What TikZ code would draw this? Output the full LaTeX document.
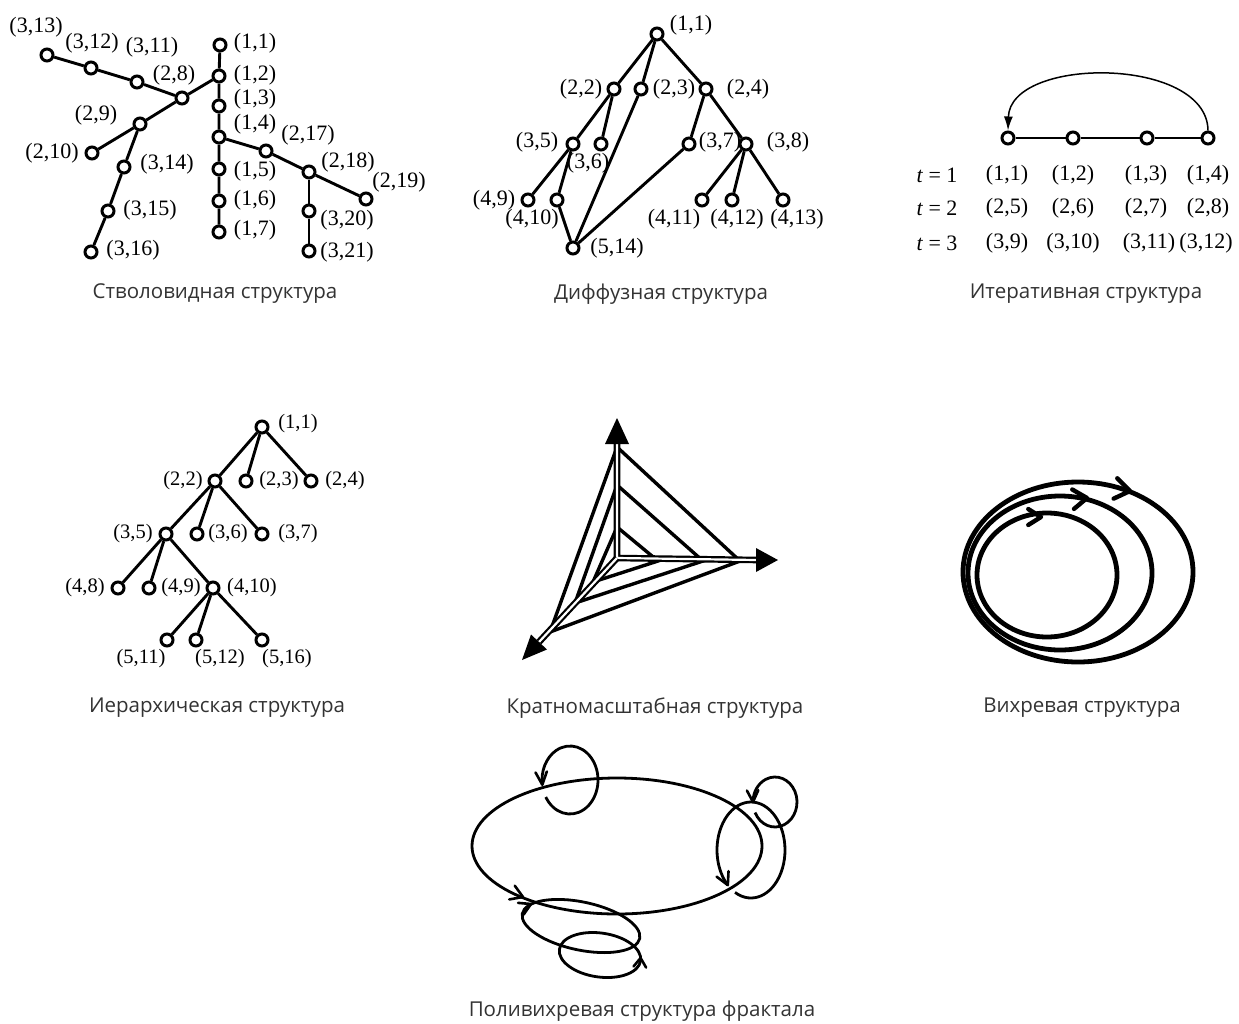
\documentclass[tikz,border=0pt]{standalone}
\usepackage{fontspec}
\setmainfont{Liberation Serif}
\newfontfamily\capfont{Open Sans}
\usetikzlibrary{calc,arrows.meta}
\newcommand\chev[5][chevst]{\draw[#1] ($(#2)+(#3+180-#5:#4)$) -- (#2) -- ($(#2)+(#3+180+#5:#4)$);}
\begin{document}
\begin{tikzpicture}[x=1pt,y=-1pt,
  vtx/.style={circle,draw,line width=3pt,fill=white,minimum size=12pt,inner sep=0pt},
  edg/.style={line width=2.9pt},
  lbl/.style={font=\fontsize{22}{26}\selectfont,inner sep=0pt},
  lblh/.style={font=\fontsize{20.5}{24}\selectfont,inner sep=0pt},
  captxt/.style={font=\capfont\fontsize{20.5}{24}\selectfont,inner sep=0pt,text=black!80},
  chevst/.style={line width=2.6pt,line cap=round,line join=round},
  chevv/.style={line width=4.4pt,line cap=round,line join=round},
  curve/.style={line width=2.8pt},
  vcurve/.style={line width=4.8pt},
  tri/.style={line width=3.4pt,line join=miter},
  axis/.style={line width=2.2pt,double=white,double distance=2.2pt}]
\useasboundingbox (0,0) rectangle (1239,1023);

% ===== Stvolovidnaya =====
\node[vtx] (s11) at (220,45) {};
\node[vtx] (s12) at (219,76) {};
\node[vtx] (s13) at (219,106) {};
\node[vtx] (s14) at (219,137) {};
\node[vtx] (s15) at (219,169) {};
\node[vtx] (s16) at (219,201) {};
\node[vtx] (s17) at (219,232) {};
\node[vtx] (s28) at (182,98) {};
\node[vtx] (s311) at (137,82) {};
\node[vtx] (s312) at (91,68) {};
\node[vtx] (s313) at (47,55) {};
\node[vtx] (s29) at (140,124) {};
\node[vtx] (s210) at (92,153) {};
\node[vtx] (s314) at (124,167) {};
\node[vtx] (s315) at (108,211) {};
\node[vtx] (s316) at (91,252) {};
\node[vtx] (s217) at (266,151) {};
\node[vtx] (s218) at (309,172) {};
\node[vtx] (s219) at (366,199) {};
\node[vtx] (s320) at (309,211) {};
\node[vtx] (s321) at (309,251) {};
\draw[edg] (s11) -- (s12) -- (s13) -- (s14) -- (s15) -- (s16) -- (s17);
\draw[edg] (s12) -- (s28);
\draw[edg] (s313) -- (s312) -- (s311) -- (s28);
\draw[edg] (s28) -- (s29);
\draw[edg] (s29) -- (s210);
\draw[edg] (s29) -- (s314) -- (s315) -- (s316);
\draw[edg] (s14) -- (s217) -- (s218) -- (s219);
\draw[edg] (s218) -- (s320) -- (s321);
\node[lbl] (ls11) at (255,43) {(1,1)};
\node[lbl] (ls12) at (255,75) {(1,2)};
\node[lbl] (ls13) at (255,99) {(1,3)};
\node[lbl] (ls14) at (255,124) {(1,4)};
\node[lbl] (ls15) at (255,171) {(1,5)};
\node[lbl] (ls16) at (255,200) {(1,6)};
\node[lbl] (ls17) at (255,230) {(1,7)};
\node[lbl] (ls28) at (174,75) {(2,8)};
\node[lbl] (ls311) at (152,47) {(3,11)};
\node[lbl] (ls312) at (92,43) {(3,12)};
\node[lbl] (ls313) at (36,27) {(3,13)};
\node[lbl] (ls29) at (96,115) {(2,9)};
\node[lbl] (ls210) at (52,153) {(2,10)};
\node[lbl] (ls314) at (167,164) {(3,14)};
\node[lbl] (ls315) at (150,210) {(3,15)};
\node[lbl] (ls316) at (133,250) {(3,16)};
\node[lbl] (ls217) at (308,135) {(2,17)};
\node[lbl] (ls218) at (348,162) {(2,18)};
\node[lbl] (ls219) at (399,182) {(2,19)};
\node[lbl] (ls320) at (347,220) {(3,20)};
\node[lbl] (ls321) at (347,252) {(3,21)};
\node[captxt] (c1) at (215,294) {Стволовидная структура};

% ===== Diffuznaya =====
\node[vtx] (d11) at (657,34) {};
\node[vtx] (d22) at (614,89) {};
\node[vtx] (d23) at (641,89) {};
\node[vtx] (d24) at (706,89) {};
\node[vtx] (d35) at (573,144) {};
\node[vtx] (d36) at (601,144) {};
\node[vtx] (d37) at (689,144) {};
\node[vtx] (d38) at (746,144) {};
\node[vtx] (d49) at (528,200) {};
\node[vtx] (d410) at (557,200) {};
\node[vtx] (d411) at (702,200) {};
\node[vtx] (d412) at (732,200) {};
\node[vtx] (d413) at (783,200) {};
\node[vtx] (d514) at (573,248) {};
\draw[edg] (d11) -- (d22);
\draw[edg] (d11) -- (d23);
\draw[edg] (d11) -- (d24);
\draw[edg] (d22) -- (d35);
\draw[edg] (d22) -- (d36);
\draw[edg] (d24) -- (d37);
\draw[edg] (d24) -- (d38);
\draw[edg] (d35) -- (d49);
\draw[edg] (d35) -- (d410);
\draw[edg] (d38) -- (d411);
\draw[edg] (d38) -- (d412);
\draw[edg] (d38) -- (d413);
\draw[edg] (d410) -- (d514);
\draw[edg] (d23) -- (d514);
\draw[edg] (d37) -- (d514);
\node[lbl] (ld11) at (691,25) {(1,1)};
\node[lbl] (ld22) at (581,89) {(2,2)};
\node[lbl] (ld23) at (674,89) {(2,3)};
\node[lbl] (ld24) at (748,89) {(2,4)};
\node[lbl] (ld35) at (537,142) {(3,5)};
\node[lbl] (ld36) at (588,163) {(3,6)};
\node[lbl] (ld37) at (720,142) {(3,7)};
\node[lbl] (ld38) at (788,142) {(3,8)};
\node[lbl] (ld49) at (494,200) {(4,9)};
\node[lbl] (ld410) at (532,219) {(4,10)};
\node[lbl] (ld411) at (674,219) {(4,11)};
\node[lbl] (ld412) at (737,219) {(4,12)};
\node[lbl] (ld413) at (797,219) {(4,13)};
\node[lbl] (ld514) at (617,248) {(5,14)};
\node[captxt] (c2) at (661,294) {Диффузная структура};

% ===== Iterativnaya =====
\node[vtx] (i1) at (1008,138) {};
\node[vtx] (i2) at (1073,138) {};
\node[vtx] (i3) at (1147,138) {};
\node[vtx] (i4) at (1208,138) {};
\draw[edg] (i1) -- (i2) -- (i3) -- (i4);
\draw[line width=1.5pt,-{Latex[length=14pt,width=9pt]}] (i4.north) .. controls (1207,56) and (1010,56) .. (i1.north);
\node[lbl] (it1) at (937,175) {\textit{t} = 1};
\node[lbl] (it2) at (937,208) {\textit{t} = 2};
\node[lbl] (it3) at (937,243) {\textit{t} = 3};
\node[lbl] (ia1) at (1007,175) {(1,1)};
\node[lbl] (ia2) at (1073,175) {(1,2)};
\node[lbl] (ia3) at (1146,175) {(1,3)};
\node[lbl] (ia4) at (1208,175) {(1,4)};
\node[lbl] (ib1) at (1007,208) {(2,5)};
\node[lbl] (ib2) at (1073,208) {(2,6)};
\node[lbl] (ib3) at (1146,208) {(2,7)};
\node[lbl] (ib4) at (1208,208) {(2,8)};
\node[lbl] (ic1) at (1007,243) {(3,9)};
\node[lbl] (ic2) at (1073,243) {(3,10)};
\node[lbl] (ic3) at (1149,243) {(3,11)};
\node[lbl] (ic4) at (1206,243) {(3,12)};
\node[captxt] (c3) at (1086,294) {Итеративная структура};

% ===== Ierarkhicheskaya =====
\node[vtx] (h11) at (262,427) {};
\node[vtx] (h22) at (215,481) {};
\node[vtx] (h23) at (246,481) {};
\node[vtx] (h24) at (311,481) {};
\node[vtx] (h35) at (166,534) {};
\node[vtx] (h36) at (197,534) {};
\node[vtx] (h37) at (262,534) {};
\node[vtx] (h48) at (118,588) {};
\node[vtx] (h49) at (149,588) {};
\node[vtx] (h410) at (213,588) {};
\node[vtx] (h511) at (167,640) {};
\node[vtx] (h512) at (196,640) {};
\node[vtx] (h516) at (262,640) {};
\draw[edg] (h11) -- (h22);
\draw[edg] (h11) -- (h23);
\draw[edg] (h11) -- (h24);
\draw[edg] (h22) -- (h35);
\draw[edg] (h22) -- (h36);
\draw[edg] (h22) -- (h37);
\draw[edg] (h35) -- (h48);
\draw[edg] (h35) -- (h49);
\draw[edg] (h35) -- (h410);
\draw[edg] (h410) -- (h511);
\draw[edg] (h410) -- (h512);
\draw[edg] (h410) -- (h516);
\node[lblh] (lh11) at (298,424) {(1,1)};
\node[lblh] (lh22) at (183,481) {(2,2)};
\node[lblh] (lh23) at (279,481) {(2,3)};
\node[lblh] (lh24) at (345,481) {(2,4)};
\node[lblh] (lh35) at (133,534) {(3,5)};
\node[lblh] (lh36) at (228,534) {(3,6)};
\node[lblh] (lh37) at (298,534) {(3,7)};
\node[lblh] (lh48) at (85,588) {(4,8)};
\node[lblh] (lh49) at (181,588) {(4,9)};
\node[lblh] (lh410) at (252,588) {(4,10)};
\node[lblh] (lh511) at (141,659) {(5,11)};
\node[lblh] (lh512) at (220,659) {(5,12)};
\node[lblh] (lh516) at (287,659) {(5,16)};
\node[captxt] (c4) at (217,708) {Иерархическая структура};

% ===== Kratnomasshtabnaya =====
\draw[tri] (617,447) -- (740,561) -- (550,632) -- cycle;
\draw[tri] (617,485) -- (703,561) -- (575,603) -- cycle;
\draw[tri] (617,527) -- (658,561) -- (593,582) -- cycle;
\draw[axis] (617,443) -- (617,558) -- (757,560);
\draw[axis] (617,558) -- (539,642);
\fill (617,418) -- (605,444) -- (629,444) -- cycle;
\fill (778,560) -- (756,548) -- (756,572) -- cycle;
\fill (522,660) -- (547,649.5) -- (531,634.5) -- cycle;
\node[captxt] (c5) at (655,708) {Кратномасштабная структура};

% ===== Vikhrevaya =====
\draw[vcurve] (1047,575) ellipse [x radius=70, y radius=62];
\draw[vcurve] (1060,573) ellipse [x radius=92, y radius=77];
\draw[vcurve] (1078,572) ellipse [x radius=115, y radius=90];
\chev[chevv]{1041,517}{0}{15}{32}
\chev[chevv]{1087,498}{-5}{17}{35}
\chev[chevv]{1130,491}{10}{18}{35}
\node[captxt] (c6) at (1082,708) {Вихревая структура};

% ===== Polivikhrevaya =====
\draw[curve] (617,846) ellipse [x radius=145, y radius=68];
\chev{523,897}{22}{14}{32}
\draw[curve] (570,780) ++(150:28 and 34) arc[start angle=150, end angle=-188, x radius=28, y radius=34];
\chev{542.3,784.7}{85}{14}{24}
\draw[curve] (775,802) ++(155:22 and 25) arc[start angle=155, end angle=-180, x radius=22, y radius=25];
\chev{753,802}{88}{13}{26}
\draw[curve] (751,850) ++(118:34 and 48) arc[start angle=118, end angle=-227, x radius=34, y radius=48];
\chev{727.8,885.1}{65}{14}{28}
\draw[curve, rotate around={-12:(581,926)}] (581,926) ellipse [x radius=60, y radius=24];
\chev{531,904}{-25}{13}{30}
\draw[curve, rotate around={-8:(600,955)}] (600,955) ellipse [x radius=41, y radius=22];
\chev{640.6,958}{-85}{11}{35}
\node[captxt] (c7) at (642,1011) {Поливихревая структура фрактала};
\end{tikzpicture}
\end{document}
